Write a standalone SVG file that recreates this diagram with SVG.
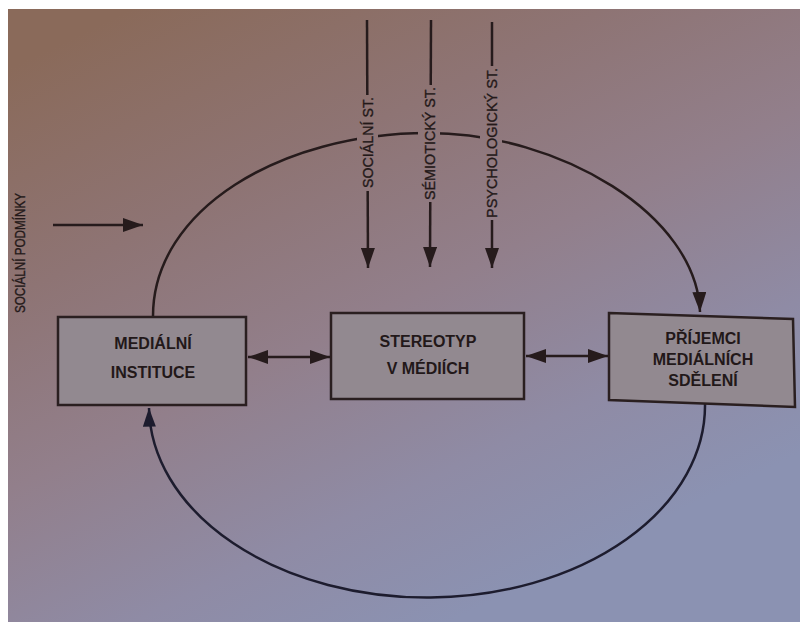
<svg xmlns="http://www.w3.org/2000/svg" width="800" height="622" viewBox="0 0 800 622">
<defs>
<linearGradient id="bg" gradientUnits="userSpaceOnUse" x1="150" y1="0" x2="450" y2="622">
<stop offset="0" stop-color="#8a6a5a"/>
<stop offset="0.3" stop-color="#8e7474"/>
<stop offset="0.55" stop-color="#927f8b"/>
<stop offset="0.8" stop-color="#8f8ba5"/>
<stop offset="1" stop-color="#8b92b2"/>
</linearGradient>
<marker id="ah" markerUnits="userSpaceOnUse" viewBox="0 0 20 14" markerWidth="20" markerHeight="14" refX="20" refY="7" orient="auto-start-reverse">
<path d="M0,0 L20,7 L0,14 z" fill="#261b1c"/>
</marker>
<marker id="ahb" markerUnits="userSpaceOnUse" viewBox="0 0 20 14" markerWidth="20" markerHeight="13" refX="20" refY="7" orient="auto">
<path d="M0,0 L20,7 L0,14 z" fill="#1d1c2e"/>
</marker>
</defs>
<style>
.box{fill:#928990;stroke:#2a1f20;stroke-width:2.5}
.bt{font-family:"Liberation Sans",Arial,sans-serif;font-weight:bold;font-size:16px;fill:#221819;text-anchor:middle}
.vt{font-family:"Liberation Sans",Arial,sans-serif;font-size:15px;fill:#241919;stroke:#241919;stroke-width:0.35;text-anchor:middle;dominant-baseline:central}
.ln{fill:none;stroke:#261b1c;stroke-width:2.5}
.cov{fill:url(#bg)}
</style>
<rect x="0" y="0" width="800" height="622" fill="#ffffff"/>
<rect x="8" y="9" width="792" height="613" fill="url(#bg)"/>

<g id="connectors">
<path class="ln" d="M153,316 C153,210 280,133 428,133 C560,133 697,215 700,312" marker-end="url(#ah)"/>
<path class="ln" style="stroke:#1d1c2e" d="M705,403 A278,192 0 0 1 149,408" marker-end="url(#ahb)"/>
<line class="ln" x1="367" y1="20" x2="368" y2="268" marker-end="url(#ah)"/>
<line class="ln" x1="431" y1="20" x2="430" y2="267" marker-end="url(#ah)"/>
<line class="ln" x1="492" y1="22" x2="492" y2="268" marker-end="url(#ah)"/>
<line class="ln" x1="53" y1="225" x2="143" y2="225" marker-end="url(#ah)"/>
<line class="ln" x1="248" y1="357" x2="330" y2="357" marker-start="url(#ah)" marker-end="url(#ah)"/>
<line class="ln" x1="526" y1="356" x2="608" y2="356" marker-start="url(#ah)" marker-end="url(#ah)"/>
</g>

<g id="label-socialni-st">
<rect class="cov" x="357" y="95" width="21" height="96"/>
<text class="vt" transform="translate(367,142.5) rotate(-90)" textLength="91" lengthAdjust="spacingAndGlyphs">SOCIÁLNÍ ST.</text>
</g>
<g id="label-semioticky-st">
<rect class="cov" x="418" y="85" width="22" height="117"/>
<text class="vt" transform="translate(429,143.5) rotate(-90)" textLength="113" lengthAdjust="spacingAndGlyphs">SÉMIOTICKÝ ST.</text>
</g>
<g id="label-psychologicky-st">
<rect class="cov" x="480" y="66" width="22" height="154"/>
<text class="vt" transform="translate(491,143) rotate(-90)" textLength="150" lengthAdjust="spacingAndGlyphs">PSYCHOLOGICKÝ ST.</text>
</g>
<g id="label-socialni-podminky">
<text class="vt" transform="translate(19,253) rotate(-90)" textLength="120" lengthAdjust="spacingAndGlyphs">SOCIÁLNÍ PODMÍNKY</text>
</g>

<g id="medialni-instituce">
<rect class="box" x="58" y="317" width="188" height="88"/>
<text class="bt" x="153" y="349">MEDIÁLNÍ</text>
<text class="bt" x="153" y="378">INSTITUCE</text>
</g>
<g id="stereotyp">
<rect class="box" x="331" y="313" width="193" height="86"/>
<text class="bt" x="428" y="347">STEREOTYP</text>
<text class="bt" x="428" y="374">V MÉDIÍCH</text>
</g>
<g id="prijemci">
<path class="box" d="M609,313 L793,319 L795,407 L609,400 Z"/>
<text class="bt" x="703" y="344">PŘÍJEMCI</text>
<text class="bt" x="703" y="365">MEDIÁLNÍCH</text>
<text class="bt" x="703" y="386">SDĚLENÍ</text>
</g>
</svg>
